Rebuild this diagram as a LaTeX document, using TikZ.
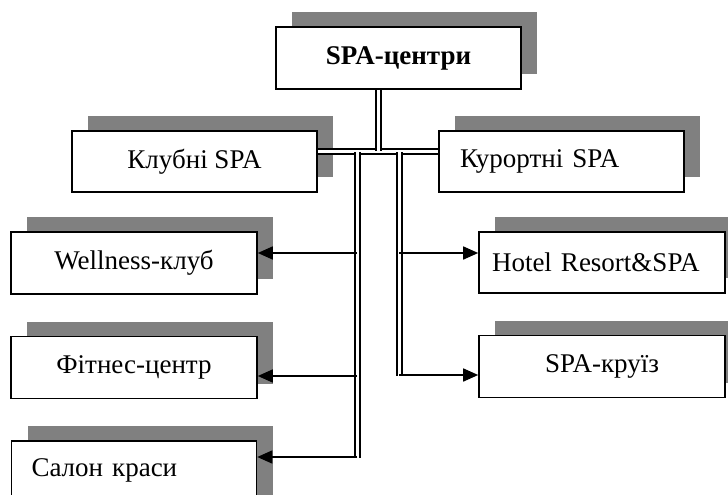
\documentclass[tikz,border=0pt]{standalone}
\usepackage{fontspec}
\setmainfont{Liberation Serif}
\usetikzlibrary{positioning,shadows,arrows.meta}
\definecolor{shade}{RGB}{128,128,128}

\begin{document}
\begin{tikzpicture}[x=1pt, y=-1pt, node distance=41pt,
  box/.style={rectangle, draw, line width=1.6pt, fill=white, minimum width=245pt, minimum height=61pt, inner sep=0pt, font=\fontsize{27}{32}\selectfont, drop shadow={shadow xshift=16pt, shadow yshift=15pt, fill=shade, opacity=1}},
  link/.style={double, double distance=3pt, line width=2pt},
  feed/.style={->, >={Triangle[length=15pt, width=13pt]}, line width=1.6pt}]

\useasboundingbox (0,0) rectangle (728,495);
\clip (0,0) rectangle (728,495);

% upper level
\node[box, minimum height=62pt, font=\fontsize{27}{32}\selectfont\bfseries] (spa) at (398.5,58) {SPA-центри};
\node[box] (club) at (194.5,161.5) {Клубні SPA};
\node[box, text width=203pt, align=left, inner xsep=21pt] (resort) at (561.5,161.5) {Курортні SPA};

% left branch
\node[box, minimum width=246pt, minimum height=62pt] (well) at (134,263) {Wellness-клуб};
\node[box, minimum width=246pt, minimum height=62pt, below=of well] (fit) {Фітнес-центр};
\node[box, minimum height=70pt, text width=205pt, align=left, inner xsep=20pt, text depth=18pt, below=of fit] (salon) {Салон краси};

% right branch
\node[box, minimum width=246pt, text width=220pt, align=left, inner xsep=13pt] (hotel) at (602,262.5) {Hotel Resort\&SPA};
\node[box, minimum width=246pt, minimum height=62pt, below=of hotel] (cruise) {SPA-круїз};

\coordinate (hub) at (378,151);
\coordinate (ltop) at (357,152);
\coordinate (lbot) at (357,458);
\coordinate (rtop) at (399,152);
\coordinate (rbot) at (399,376);
\coordinate (l1) at (357,253);
\coordinate (l2) at (357,376);
\coordinate (l3) at (357,457);
\coordinate (r1) at (399,253);
\coordinate (r2) at (399,375);

\draw[link] (club.east |- hub) -- (resort.west |- hub);
\draw[link] (hub |- spa.south) -- (hub);
\draw[link] (ltop) -- (lbot);
\draw[link] (rtop) -- (rbot);

\foreach \c/\b in {l1/well, l2/fit, l3/salon}
   \draw[feed] (\c) -- (\c -| \b.east);
\foreach \c/\b in {r1/hotel, r2/cruise}
   \draw[feed] (\c) -- (\c -| \b.west);

\end{tikzpicture}
\end{document}
